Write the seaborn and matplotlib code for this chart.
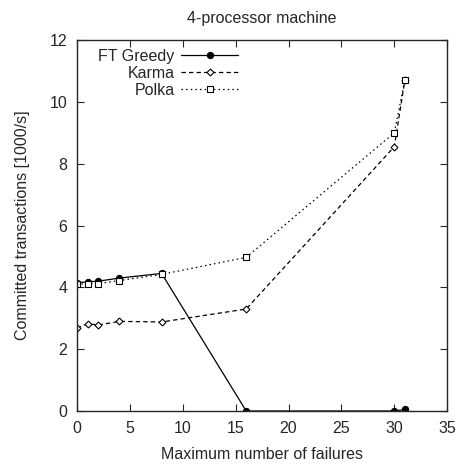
import numpy as np
import pandas as pd
import matplotlib
matplotlib.use("Agg")
import matplotlib.pyplot as plt
import seaborn as sns

# Values
failures = [0, 1, 2, 4, 8, 16, 30, 31]
ft_greedy = [4.15, 4.18, 4.2, 4.3, 4.45, 0.0, 0.0, 0.05]
karma = [2.68, 2.82, 2.78, 2.9, 2.88, 3.3, 8.55, 10.7]
polka = [4.1, 4.12, 4.12, 4.22, 4.42, 4.97, 9.0, 10.7]

x_ticks = [0, 5, 10, 15, 20, 25, 30, 35]
y_ticks = [0, 2, 4, 6, 8, 10, 12]

fs = 11.5

sns.set_style("ticks")
plt.rcParams["font.family"] = ["Liberation Sans", "DejaVu Sans"]
plt.rcParams["font.size"] = fs

fig = plt.figure(figsize=(4.61, 4.66), dpi=100)
ax = fig.add_axes([0.167, 0.118, 0.803, 0.796])

df = pd.DataFrame({"x": failures, "ft": ft_greedy, "karma": karma, "polka": polka})

sns.lineplot(data=df, x="x", y="ft", ax=ax, color="black", lw=0.9,
             marker="o", markersize=4.5, markerfacecolor="black",
             markeredgecolor="black", label="FT Greedy")
sns.lineplot(data=df, x="x", y="karma", ax=ax, color="black", lw=0.9,
             dashes=(3.5, 2.5), marker="D", markersize=3.5, markerfacecolor="white",
             markeredgecolor="black", markeredgewidth=0.8, label="Karma")
sns.lineplot(data=df, x="x", y="polka", ax=ax, color="black", lw=0.9,
             dashes=(1.2, 2.5), marker="s", markersize=5, markerfacecolor="white",
             markeredgecolor="black", markeredgewidth=0.8, label="Polka")

ax.set_xlim(0, 35)
ax.set_ylim(0, 12)
ax.set_xticks(x_ticks)
ax.set_yticks(y_ticks)
ax.tick_params(direction="in", top=True, right=True, length=5, width=0.8,
               labelsize=fs, pad=7)
for s in ax.spines.values():
    s.set_linewidth(1.0)
    s.set_visible(True)

ax.set_xlabel("Maximum number of failures", fontsize=fs, labelpad=8)
ax.set_ylabel("Committed transactions [1000/s]", fontsize=fs, labelpad=14)
ax.set_title("4-processor machine", fontsize=fs, pad=12)

leg = ax.legend(loc="upper left", bbox_to_anchor=(0.04, 0.993), markerfirst=False,
                frameon=False, handlelength=3.6, handletextpad=0.4,
                labelspacing=0.12, borderaxespad=0.0, fontsize=fs)

fig.savefig("out.png", dpi=100)
